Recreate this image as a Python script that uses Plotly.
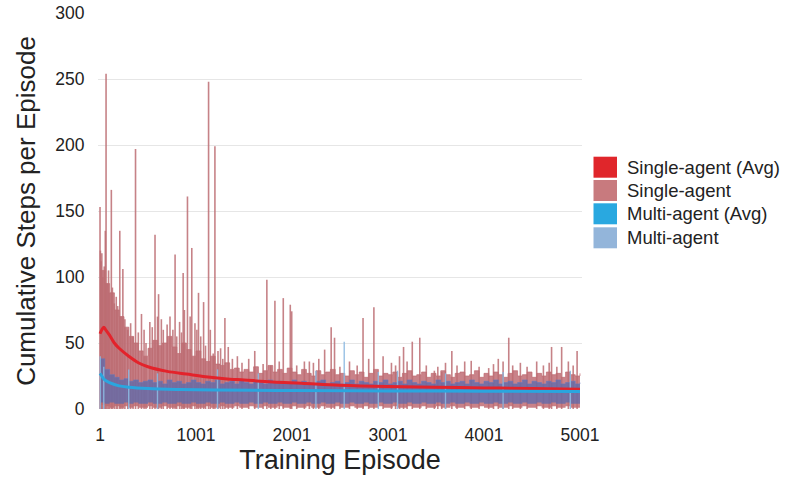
import plotly.graph_objects as go

# ---------------- data ----------------
x_ticks = [1, 1001, 2001, 3001, 4001, 5001]
y_ticks = [0, 50, 100, 150, 200, 250, 300]

# dense band envelope, one value per 50 episodes (1, 51, ..., 5001)
band_ep = list(range(1, 5002, 50))
sa_band_hi = [105, 95, 88, 75, 70, 62, 55, 50, 44, 40, 46, 52, 48, 50, 55, 47, 42, 50, 45, 40,
              44, 38, 36, 40, 34, 33, 35, 30, 31, 28, 30, 28, 32, 27, 29, 33, 28, 30, 27, 31,
              28, 26, 30, 27, 25, 29, 26, 28, 30, 26, 27, 25, 29, 26, 28, 24, 27, 30, 25, 27,
              26, 28, 24, 27, 29, 25, 26, 28, 24, 27, 25, 29, 26, 24, 27, 28, 25, 26, 29, 24,
              27, 25, 28, 26, 24, 27, 29, 25, 26, 28, 24, 27, 25, 28, 26, 27, 24, 28, 26, 25, 27]
sa_band_lo = [3, 2, 1, 2, 1, 2, 1, 2, 1, 1, 2, 1, 1, 2, 1, 1, 2, 1, 1, 2,
              1, 1, 2, 1, 1, 2, 1, 1, 2, 1, 1, 2, 1, 1, 2, 1, 1, 2, 1, 1,
              2, 1, 1, 2, 1, 1, 2, 1, 1, 2, 1, 1, 2, 1, 1, 2, 1, 1, 2, 1,
              1, 2, 1, 1, 2, 1, 1, 2, 1, 1, 2, 1, 1, 2, 1, 1, 2, 1, 1, 2,
              1, 1, 2, 1, 1, 2, 1, 1, 2, 1, 1, 2, 1, 1, 2, 1, 1, 2, 1, 1, 2]
ma_band_hi = [38, 30, 26, 24, 22, 23, 21, 22, 20, 21, 22, 20, 21, 19, 22, 20, 21, 19, 20, 22,
              20, 19, 21, 20, 22, 19, 20, 21, 19, 22, 20, 19, 21, 20, 19, 22, 20, 21, 19, 20,
              22, 19, 21, 20, 19, 21, 22, 19, 20, 21, 19, 20, 22, 19, 21, 20, 19, 21, 20, 22,
              19, 20, 21, 19, 22, 20, 19, 21, 20, 19, 22, 20, 21, 19, 20, 21, 19, 22, 20, 19,
              21, 20, 22, 19, 20, 21, 19, 20, 22, 19, 21, 20, 19, 21, 20, 22, 19, 20, 21, 19, 20]
ma_band_lo = [5, 4, 5, 4, 4, 5, 4, 5, 4, 4, 5, 4, 4, 5, 4, 4, 5, 4, 4, 5,
              4, 4, 5, 4, 4, 5, 4, 4, 5, 4, 4, 5, 4, 4, 5, 4, 4, 5, 4, 4,
              5, 4, 4, 5, 4, 4, 5, 4, 4, 5, 4, 4, 5, 4, 4, 5, 4, 4, 5, 4,
              4, 5, 4, 4, 5, 4, 4, 5, 4, 4, 5, 4, 4, 5, 4, 4, 5, 4, 4, 5,
              4, 4, 5, 4, 4, 5, 4, 4, 5, 4, 4, 5, 4, 4, 5, 4, 4, 5, 4, 4, 5]

# single-agent spikes (episode, steps)
sa_spike_ep = [1, 5, 12, 20, 30, 45, 56, 64, 75, 90, 100, 119, 130, 150, 170, 185, 207, 220, 239,
               260, 290, 320, 345, 371, 400, 433, 460, 480, 520, 545, 574, 600, 611, 640, 660,
               700, 730, 760, 783, 800, 830, 850, 867, 880, 912, 940, 957, 990, 1010, 1027, 1050,
               1080, 1100, 1132, 1150, 1180, 1198, 1230, 1257, 1280, 1302, 1337, 1380, 1432, 1480,
               1550, 1613, 1700, 1739, 1780, 1823, 1868, 1910, 1983, 1998, 2050, 2130, 2182, 2224,
               2280, 2341, 2409, 2444, 2500, 2600, 2680, 2741, 2800, 2854, 2950, 3037, 3080, 3121,
               3163, 3200, 3254, 3332, 3400, 3484, 3520, 3561, 3600, 3666, 3720, 3800, 3868, 3950,
               4050, 4100, 4150, 4200, 4259, 4300, 4380, 4450, 4550, 4620, 4680, 4705, 4760, 4810,
               4880, 4930, 4971]
sa_spike_val = [153, 120, 112, 118, 100, 108, 135, 254, 95, 105, 88, 166, 92, 80, 85, 78, 135, 70, 106,
                68, 60, 65, 55, 197, 58, 72, 60, 50, 66, 62, 132, 70, 87, 68, 60,
                64, 70, 60, 117, 55, 66, 58, 103, 75, 161, 70, 122, 65, 60, 88, 55,
                81, 48, 248, 60, 42, 199, 44, 46, 38, 69, 47, 38, 40, 35,
                38, 44, 34, 98, 33, 82, 36, 84, 79, 74, 33, 36, 36, 35,
                38, 45, 62, 54, 32, 36, 33, 69, 38, 77, 40, 35, 33, 40,
                47, 36, 51, 54, 33, 29, 32, 28, 35, 44, 33, 36, 36.5, 32,
                31, 34, 38, 36, 54, 33, 35, 32, 36, 33, 35, 47, 32, 47,
                36, 33, 44]

# multi-agent spikes (episode, steps)
ma_spike_ep = [3, 40, 300, 600, 1225, 1650, 2250, 2545, 2900, 3100, 3600, 4200, 4900]
ma_spike_val = [40, 32, 30, 27, 30, 27, 29, 51, 28, 29, 27, 28, 29]

# running averages
sa_avg_ep = [1, 20, 40, 60, 100, 150, 200, 300, 400, 500, 700, 900, 1100, 1300, 1500, 1800, 2100,
             2500, 3000, 3500, 4000, 4500, 5001]
sa_avg_val = [57, 60, 62, 60, 56, 50, 46, 40, 35, 32, 28.5, 26.5, 24.5, 23, 22, 20.5, 19.5,
              18, 17, 16.5, 16, 15.5, 15]
ma_avg_ep = [1, 20, 50, 100, 200, 300, 500, 800, 1200, 2000, 3000, 4000, 5001]
ma_avg_val = [27, 25, 22, 20, 17.5, 16.5, 15.5, 14.8, 14.3, 14, 13.7, 13.5, 13.3]

legend_names = ["Single-agent (Avg)", "Single-agent", "Multi-agent (Avg)", "Multi-agent"]
legend_colors = ["#e0262b", "#c87a7e", "#29a8e0", "#93b5da"]

FONT = "Liberation Sans, Arial, sans-serif"


def spikes(eps, vals):
    xs, ys = [], []
    for e, v in zip(eps, vals):
        xs += [e, e, None]
        ys += [0, v, None]
    return xs, ys


fig = go.Figure()

# single-agent dense band
fig.add_trace(go.Scatter(x=band_ep, y=sa_band_lo, mode="lines", line=dict(width=0, shape="hv"),
                         showlegend=False, hoverinfo="skip"))
fig.add_trace(go.Scatter(x=band_ep, y=sa_band_hi, mode="lines", fill="tonexty",
                         fillcolor="rgba(192,108,116,0.85)",
                         line=dict(width=0.8, shape="hv", color="rgba(192,108,116,0.9)"),
                         showlegend=False, hoverinfo="skip"))
# single-agent spikes
sx, sy = spikes(sa_spike_ep, sa_spike_val)
fig.add_trace(go.Scatter(x=sx, y=sy, mode="lines", line=dict(width=1.6, color="rgba(188,108,114,0.85)"),
                         showlegend=False, hoverinfo="skip"))
# multi-agent dense band
fig.add_trace(go.Scatter(x=band_ep, y=ma_band_lo, mode="lines", line=dict(width=0, shape="hv"),
                         showlegend=False, hoverinfo="skip"))
fig.add_trace(go.Scatter(x=band_ep, y=ma_band_hi, mode="lines", fill="tonexty",
                         fillcolor="rgba(88,105,175,0.72)",
                         line=dict(width=0.8, shape="hv", color="rgba(100,120,190,0.7)"),
                         showlegend=False, hoverinfo="skip"))
mx, my = spikes(ma_spike_ep, ma_spike_val)
fig.add_trace(go.Scatter(x=mx, y=my, mode="lines", line=dict(width=1.4, color="rgba(140,185,225,0.9)"),
                         showlegend=False, hoverinfo="skip"))
# averages
fig.add_trace(go.Scatter(x=sa_avg_ep, y=sa_avg_val, mode="lines", line=dict(width=3, color="#e3232b", shape="spline"),
                         showlegend=False))
fig.add_trace(go.Scatter(x=ma_avg_ep, y=ma_avg_val, mode="lines", line=dict(width=3, color="#2aa6df", shape="spline"),
                         showlegend=False))

# manual legend
sw_top = [156.7, 180.0, 203.3, 227.3]
plot_top, plot_bot, plot_l, plot_w = 13, 409, 98, 484
for name, col, t in zip(legend_names, legend_colors, sw_top):
    y1 = (plot_bot - t) / (plot_bot - plot_top)
    y0 = (plot_bot - (t + 21)) / (plot_bot - plot_top)
    fig.add_shape(type="rect", xref="paper", yref="paper",
                  x0=(593.5 - plot_l) / plot_w, x1=(617 - plot_l) / plot_w, y0=y0, y1=y1,
                  fillcolor=col, line=dict(width=0))
    fig.add_annotation(xref="paper", yref="paper", x=(625 - plot_l) / plot_w, y=(y0 + y1) / 2,
                       text=name, showarrow=False, xanchor="left", yanchor="middle",
                       font=dict(size=18.5, color="#222", family=FONT))

fig.update_layout(
    width=787, height=482,
    margin=dict(l=98, r=205, t=13, b=73),
    plot_bgcolor="white", paper_bgcolor="white",
    font=dict(family=FONT, color="#222"),
    showlegend=False,
)
fig.update_xaxes(range=[-20, 5022], tickvals=x_ticks, ticktext=[str(v) for v in x_ticks],
                 showgrid=False, zeroline=False, showline=False, automargin=False,
                 ticks="outside", ticklen=10, tickcolor="rgba(0,0,0,0)",
                 tickfont=dict(size=17.5, color="#222"),
                 title=dict(text="Training Episode", font=dict(size=27, color="#222"), standoff=6))
fig.update_yaxes(range=[0, 300], tickvals=y_ticks, showgrid=True, gridcolor="#e6e6e6", gridwidth=1,
                 zeroline=False, showline=False, automargin=False,
                 ticks="outside", ticklen=9, tickcolor="rgba(0,0,0,0)",
                 tickfont=dict(size=17.5, color="#222"),
                 title=dict(text="Cumulative Steps per Episode", font=dict(size=26, color="#222"), standoff=12))

fig.write_html("out.html", config={"displayModeBar": False},
               post_script="document.body.style.margin='0';document.body.style.overflow='hidden';")
